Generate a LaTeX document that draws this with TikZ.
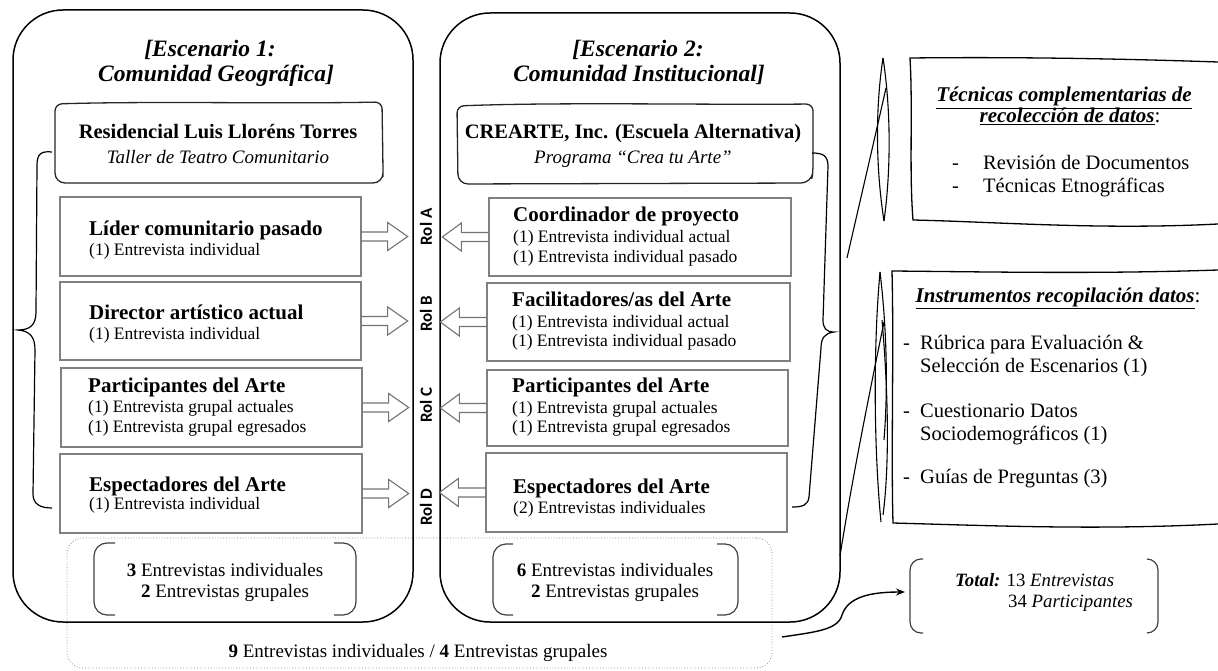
\documentclass[tikz,border=0pt]{standalone}
\usepackage{fontspec}
\setmainfont{Liberation Serif}
\newfontfamily\rolfont{Carlito}
\usetikzlibrary{calc,arrows.meta}
\tikzset{
  bigbox/.style={draw=black, line width=1.5pt, rounded corners=50pt},
  handbox/.style={draw=black!85, line width=1.3pt, rounded corners=7pt},
  rolebox/.style={draw=black!50, line width=1.3pt, inner sep=0pt},
  harrow/.style={draw=black!55, line width=1.1pt, line join=miter},
  brk/.style={draw=black!75, line width=1.2pt, rounded corners=13pt},
  dotbox/.style={draw=black!45, dotted, line width=0.8pt, rounded corners=16pt, inner sep=0pt},
  sketch/.style={draw=black, line width=1.1pt},
  tl/.style={inner sep=0pt, anchor=base west},
  tc/.style={inner sep=0pt, anchor=base},
  fscen/.style={font=\fontsize{23.5}{26}\selectfont\bfseries\itshape},
  fhead/.style={font=\fontsize{20.5}{24}\selectfont\bfseries},
  fheadit/.style={font=\fontsize{19}{22}\selectfont\itshape},
  frt/.style={font=\fontsize{21}{24}\selectfont\bfseries},
  fsub/.style={font=\fontsize{17.5}{20}\selectfont},
  frol/.style={font=\fontsize{17}{20}\selectfont\rolfont\bfseries, rotate=90, inner sep=0pt},
  fpanh/.style={font=\fontsize{21}{24}\selectfont\bfseries\itshape},
  fpan/.style={font=\fontsize{20.5}{24}\selectfont},
  fsum/.style={font=\fontsize{19}{22}\selectfont},
  ftot/.style={font=\fontsize{18.8}{22}\selectfont},
}
\begin{document}
\begin{tikzpicture}[x=1pt,y=-1pt]
\useasboundingbox (0,0) rectangle (1218,671);

% dotted summary box (behind)
\node[dotbox, minimum width=705pt, minimum height=130pt] (all) at (419.5,603) {};

% big scenario boxes
\draw[bigbox] (13,10) rectangle (413,622);
\draw[bigbox] (440,13) rectangle (840,622);
\coordinate (e1) at (213,316);
\coordinate (e2) at (640,316);

% scenario titles
\node[tc,fscen] (t1a) at (210,57) {[Escenario 1:};
\node[tc,fscen] (t1b) at (216,82) {Comunidad Geográfica]};
\node[tc,fscen] (t2a) at (638,57) {[Escenario 2:};
\node[tc,fscen] (t2b) at (639,82) {Comunidad Institucional]};

% hand-drawn header boxes
\draw[handbox] (55,104) .. controls (150,101) and (280,104) .. (382,102)
  -- (383,170) [rounded corners=10pt]-- (383,183) -- (55,183) [rounded corners=7pt]-- cycle;
\node[tc,fhead] (h1) at (218,139) {Residencial Luis Lloréns Torres};
\node[tc,fheadit] (h1b) at (218,164) {Taller de Teatro Comunitario};
\draw[handbox] (457,106) .. controls (560,102) and (700,105) .. (813,104)
  -- (813,172) [rounded corners=10pt]-- (811,183) -- (458,184) [rounded corners=7pt]-- cycle;
\node[tc,fhead] (h2) at (633,139) {CREARTE, Inc. (Escuela Alternativa)};
\node[tc,fheadit] (h2b) at (633,164) {Programa “Crea tu Arte”};

% left role boxes
\node[rolebox, minimum width=301pt, minimum height=79pt] (l1) at (210.5,236.5) {};
\node[rolebox, minimum width=301pt, minimum height=78pt] (l2) at (210.5,321) {};
\node[rolebox, minimum width=301pt, minimum height=79pt] (l3) at (211.5,407.5) {};
\node[rolebox, minimum width=302pt, minimum height=79pt] (l4) at (211,493.5) {};

\node[tl,frt] (l1t) at (89,236) {Líder comunitario pasado};
\node[tl,fsub] (l1s) at (89,255) {(1) Entrevista individual};
\node[tl,frt] (l2t) at (89,319) {Director artístico actual};
\node[tl,fsub] (l2s) at (89,339) {(1) Entrevista individual};
\node[tl,frt] (l3t) at (88,392) {Participantes del Arte};
\node[tl,fsub] (l3s) at (88,412) {(1) Entrevista grupal actuales};
\node[tl,fsub] (l3u) at (88,432) {(1) Entrevista grupal egresados};
\node[tl,frt] (l4t) at (89,491) {Espectadores del Arte};
\node[tl,fsub] (l4s) at (89,509) {(1) Entrevista individual};

% right role boxes
\node[rolebox, minimum width=302pt, minimum height=78pt] (r1) at (640,237) {};
\node[rolebox, minimum width=303pt, minimum height=78pt] (r2) at (638.5,322) {};
\node[rolebox, minimum width=301pt, minimum height=76pt] (r3) at (637.5,408) {};
\node[rolebox, minimum width=301pt, minimum height=79pt] (r4) at (636.5,492.5) {};

\node[tl,frt] (r1t) at (513,222) {Coordinador de proyecto};
\node[tl,fsub] (r1s) at (513,242) {(1) Entrevista individual actual};
\node[tl,fsub] (r1u) at (513,262) {(1) Entrevista individual pasado};
\node[tl,frt] (r2t) at (512,306) {Facilitadores/as del Arte};
\node[tl,fsub] (r2s) at (512,327) {(1) Entrevista individual actual};
\node[tl,fsub] (r2u) at (512,346) {(1) Entrevista individual pasado};
\node[tl,frt] (r3t) at (512,392) {Participantes del Arte};
\node[tl,fsub] (r3s) at (512,413) {(1) Entrevista grupal actuales};
\node[tl,fsub] (r3u) at (512,432) {(1) Entrevista grupal egresados};
\node[tl,frt] (r4t) at (513,493) {Espectadores del Arte};
\node[tl,fsub] (r4s) at (513,513) {(2) Entrevistas individuales};

% hollow block arrows
\foreach \b in {l1,l2,l3,l4}{
  \draw[harrow] ($(\b.east)+(0,-4.5)$) -- ++(26,0) -- ++(0,-9.5) -- ++(20,14)
    -- ++(-20,14) -- ++(0,-9.5) -- ++(-26,0);
}
\foreach \b in {r1,r2,r3,r4}{
  \draw[harrow] ($(\b.west)+(0,-4.5)$) -- ++(-27,0) -- ++(0,-9.5) -- ++(-19,14)
    -- ++(19,14) -- ++(0,-9.5) -- ++(27,0);
}

% role labels
\node[frol] (ra) at (426,227) {Rol A};
\node[frol] (rb) at (426,314) {Rol B};
\node[frol] (rc) at (426,405) {Rol C};
\node[frol] (rd) at (426,507) {Rol D};

% curly braces
\draw[sketch, line width=1.2pt] (52,152) .. controls (42,151) and (37,153) .. (37,165)
  -- (36,312) .. controls (36,325) and (30,330) .. (18,330)
  .. controls (30,331) and (35,337) .. (35,350)
  -- (33,494) .. controls (33,504) and (40,508) .. (52,508);
\draw[sketch, line width=1.2pt] (812,153) .. controls (822,153) and (828,155) .. (828,166)
  -- (823,320) .. controls (823,328) and (826,332) .. (834,332)
  .. controls (825,333) and (821,338) .. (821,348)
  -- (809,497) .. controls (808,505) and (803,507) .. (792,507);

% sketch strokes
\draw[sketch] (883,58) .. controls (875,110) and (876,170) .. (884,221);
\draw[sketch] (883,58) .. controls (891,110) and (891,170) .. (884,221);
\draw[sketch] (886,88) .. controls (872,150) and (858,210) .. (847,258);
\draw[sketch] (880,272) .. controls (873,350) and (874,450) .. (881,522);
\draw[sketch] (880,272) .. controls (887,330) and (888,390) .. (884,440);
\draw[sketch] (882,320) .. controls (889,400) and (889,470) .. (883,515);
\draw[sketch] (884,322) .. controls (868,400) and (852,480) .. (840,556);

% right panels (open on the right)
\draw[sketch, line width=1.3pt] (1218,62) .. controls (1100,58) and (1000,57) .. (910,58)
  .. controls (913,110) and (909,170) .. (913,220)
  .. controls (1000,222) and (1100,230) .. (1218,224);
\node[tc,fpanh] (p1a) at (1064,102) {\underline{Técnicas complementarias de}};
\node[tc,fpanh] (p1b) at (1070,123) {\underline{recolección de datos}\normalfont\fontsize{21}{24}\selectfont:};
\node[tl,fpan] (p1d1) at (952,170) {-};
\node[tl,fpan] (p1c) at (983,170) {Revisión de Documentos};
\node[tl,fpan] (p1d2) at (952,193) {-};
\node[tl,fpan] (p1e) at (983,193) {Técnicas Etnográficas};

\draw[sketch, line width=1.3pt] (1218,270) .. controls (1100,274) and (1000,272) .. (892,271)
  .. controls (894,350) and (891,450) .. (893,523)
  .. controls (1000,526) and (1100,530) .. (1218,524);
\node[tc,fpanh] (p2a) at (1058,302) {\underline{Instrumentos recopilación datos}\normalfont\fontsize{21}{24}\selectfont:};
\node[tl,fpan] (p2d1) at (903,349) {-};
\node[tl,fpan] (p2b) at (920,349) {Rúbrica para Evaluación \&};
\node[tl,fpan] (p2c) at (920,372) {Selección de Escenarios (1)};
\node[tl,fpan] (p2d2) at (903,417) {-};
\node[tl,fpan] (p2e) at (920,417) {Cuestionario Datos};
\node[tl,fpan] (p2f) at (920,440) {Sociodemográficos (1)};
\node[tl,fpan] (p2d3) at (903,483) {-};
\node[tl,fpan] (p2g) at (920,483) {Guías de Preguntas (3)};

% summary brackets
\draw[brk] (115,543) -- (94,543) -- (94,615) -- (115,615);
\draw[brk] (334,543) -- (356,543) -- (356,615) -- (334,615);
\node[tc,fsum] (s1a) at (225,576) {\textbf{3} Entrevistas individuales};
\node[tc,fsum] (s1b) at (225,597) {\textbf{2} Entrevistas grupales};
\draw[brk] (513,544) -- (493,544) -- (493,615) -- (513,615);
\draw[brk] (717,544) -- (738,544) -- (738,615) -- (717,615);
\node[tc,fsum] (s2a) at (615,576) {\textbf{6} Entrevistas individuales};
\node[tc,fsum] (s2b) at (615,597) {\textbf{2} Entrevistas grupales};
\node[tc,fsum] (s3) at (418,657) {\textbf{9} Entrevistas individuales / \textbf{4} Entrevistas grupales};

% total
\draw[brk, rounded corners=11pt] (923,559) -- (910,559) -- (910,633) -- (923,633);
\draw[brk, rounded corners=11pt] (1147,559) -- (1158,559) -- (1158,633) -- (1147,633);
\node[tl,ftot] (tot1) at (955,586) {\textbf{\textit{Total:}} 13 \textit{Entrevistas}};
\node[tl,ftot] (tot2) at (1008,607) {34 \textit{Participantes}};

% curved arrow
\coordinate (cs) at (782,637);
\coordinate (ce) at (905,592);
\draw[sketch, line width=1.4pt, -{Stealth[length=9pt,width=7pt]}] (cs)
  .. controls (815,632) and (838,630) .. (842,615)
  .. controls (848,597) and (870,592) .. (ce);
\end{tikzpicture}
\end{document}
